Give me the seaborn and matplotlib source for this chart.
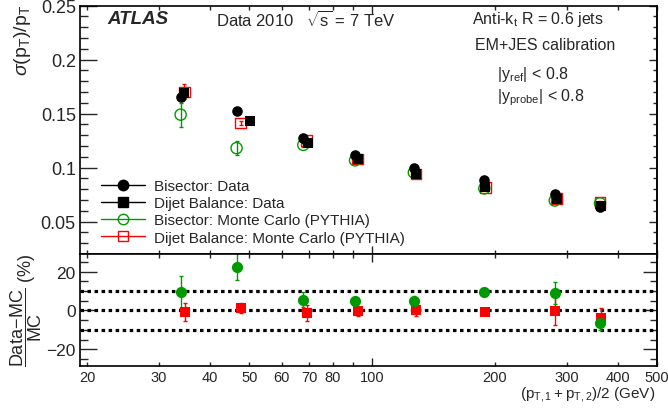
import numpy as np
import pandas as pd
import matplotlib
matplotlib.use("Agg")
import matplotlib.pyplot as plt
import seaborn as sns
from matplotlib.lines import Line2D
from matplotlib.ticker import FixedLocator, FixedFormatter, MultipleLocator

sns.set_theme(style="ticks")
plt.rcParams["font.family"] = ["Liberation Sans", "DejaVu Sans"]
plt.rcParams["mathtext.fontset"] = "custom"
plt.rcParams["mathtext.rm"] = "Liberation Sans"
plt.rcParams["mathtext.it"] = "Liberation Sans:italic"
plt.rcParams["mathtext.bf"] = "Liberation Sans:bold"

# resolution vs average pT
x_bis = [33.9, 46.5, 67.8, 90.8, 126.6, 188.5, 280.6, 362.4]
x_dij_data = [34.6, 50.2, 69.6, 92.1, 128.1, 189.6, 283.8, 364.8]
x_dij_mc = [34.6, 47.6, 69.1, 92.1, 128.1, 189.6, 283.8, 362.4]

bis_data = [0.165, 0.1526, 0.1275, 0.1116, 0.100, 0.0884, 0.0755, 0.0632]
dij_data = [0.169, 0.143, 0.123, 0.1076, 0.094, 0.0817, 0.071, 0.0645]
bis_mc = [0.149, 0.118, 0.121, 0.1067, 0.0954, 0.0807, 0.0695, 0.0669]
bis_mc_err = [0.011, 0.0065, 0.002, 0.0015, 0.0015, 0.0015, 0.0015, 0.0015]
dij_mc = [0.170, 0.1413, 0.125, 0.108, 0.094, 0.0817, 0.0712, 0.068]
dij_mc_err = [0.007, 0.002, 0.0015, 0.0015, 0.0015, 0.0015, 0.0015, 0.0015]

# (Data-MC)/MC in %
x_rat_bis = [33.9, 46.5, 67.8, 90.8, 126.6, 188.5, 280.6, 362.4]
x_rat_dij = [34.8, 47.6, 69.1, 92.1, 128.1, 189.6, 280.6, 364.8]
rat_bis = [9.5, 22.5, 5.6, 4.7, 4.7, 9.3, 9.0, -6.6]
rat_bis_err = [8.2, 7.0, 3.8, 2.2, 2.9, 1.0, 5.6, 3.5]
rat_dij = [-0.8, 1.2, -1.4, -0.5, 0.0, -0.9, -0.2, -3.7]
rat_dij_err = [4.8, 2.5, 4.0, 2.5, 3.0, 0.8, 7.3, 5.0]

green = "#009900"
red = "#ff0000"

fig = plt.figure(figsize=(6.68, 4.10), dpi=100)
ax = fig.add_axes([80 / 668, 1 - 255 / 410, 577 / 668, 248.5 / 410])
axr = fig.add_axes([80 / 668, 1 - 367 / 410, 577 / 668, 112 / 410])

up = pd.DataFrame({"x_bis": x_bis, "x_dd": x_dij_data, "x_dm": x_dij_mc,
                   "bis_data": bis_data, "dij_data": dij_data,
                   "bis_mc": bis_mc, "dij_mc": dij_mc})

ax.errorbar(x_bis, bis_mc, yerr=bis_mc_err, fmt="none", ecolor=green,
            elinewidth=1, capsize=1.5, zorder=2)
ax.errorbar(x_dij_mc, dij_mc, yerr=dij_mc_err, fmt="none", ecolor=red,
            elinewidth=1, capsize=1.5, zorder=2)
sns.scatterplot(data=up, x="x_dm", y="dij_mc", marker="s", s=60,
                facecolor="none", edgecolor=red, linewidth=1, ax=ax, zorder=3)
sns.scatterplot(data=up, x="x_bis", y="bis_mc", marker="o", s=65,
                facecolor="none", edgecolor=green, linewidth=1, ax=ax, zorder=3)
sns.scatterplot(data=up, x="x_dd", y="dij_data", marker="s", s=50,
                color="black", linewidth=0, ax=ax, zorder=4)
sns.scatterplot(data=up, x="x_bis", y="bis_data", marker="o", s=58,
                color="black", linewidth=0, ax=ax, zorder=4)

lo = pd.DataFrame({"x_bis": x_rat_bis, "x_dij": x_rat_dij,
                   "bis": rat_bis, "dij": rat_dij})
for yl in [-10, 0, 10]:
    axr.axhline(yl, color="black", lw=2.3, ls=(0, (1.1, 1.1)), zorder=1)
axr.errorbar(x_rat_dij, rat_dij, yerr=rat_dij_err, fmt="none", ecolor=red,
             elinewidth=1, capsize=1.5, zorder=2)
axr.errorbar(x_rat_bis, rat_bis, yerr=rat_bis_err, fmt="none", ecolor=green,
             elinewidth=1, capsize=1.5, zorder=2)
sns.scatterplot(data=lo, x="x_dij", y="dij", marker="s", s=60, color=red,
                linewidth=0, ax=axr, zorder=3)
sns.scatterplot(data=lo, x="x_bis", y="bis", marker="o", s=65, color=green,
                linewidth=0, ax=axr, zorder=3)

major_x = [100]
minor_x = [20, 30, 40, 50, 60, 70, 80, 90, 200, 300, 400, 500]
minor_lab = ["20", "30", "40", "50", "60", "70", "80", "", "200", "300", "400", "500"]
for a in (ax, axr):
    a.set_xscale("log")
    a.set_xlim(19.2, 500)
    a.xaxis.set_major_locator(FixedLocator(major_x))
    a.xaxis.set_minor_locator(FixedLocator(minor_x))
    a.set_xlabel("")
    a.set_ylabel("")
    for s in a.spines.values():
        s.set_linewidth(1.2)
        s.set_color("black")
    a.tick_params(axis="x", which="major", direction="in", length=6, width=1,
                  top=True, bottom=True)
    a.tick_params(axis="x", which="minor", direction="in", length=3, width=1,
                  top=True, bottom=True)
    a.tick_params(axis="y", which="major", direction="in", length=12.5, width=1,
                  left=True, right=False)
    a.tick_params(axis="y", which="minor", direction="in", length=6, width=1,
                  left=True, right=False)

ax.set_ylim(0.02, 0.25)
axr.set_ylim(-28.5, 29)

ax.tick_params(axis="x", which="both", labelbottom=False)
axr.xaxis.set_major_formatter(FixedFormatter(["100"]))
axr.xaxis.set_minor_formatter(FixedFormatter(minor_lab))
axr.tick_params(axis="x", which="both", labelsize=10.5, pad=3)

ax.yaxis.set_major_locator(FixedLocator([0.05, 0.1, 0.15, 0.2, 0.25]))
ax.yaxis.set_major_formatter(FixedFormatter(["0.05", "0.1", "0.15", "0.2", "0.25"]))
ax.yaxis.set_minor_locator(MultipleLocator(0.01))
ax.tick_params(axis="y", labelsize=13, pad=3)
axr.yaxis.set_major_locator(FixedLocator([-20, 0, 20]))
axr.yaxis.set_minor_locator(MultipleLocator(5))
axr.tick_params(axis="y", labelsize=12.5, pad=3)

# shorter ticks on the right side, ROOT style
for a, maj, mlen, mloc in ((ax, [0.05, 0.1, 0.15, 0.2, 0.25], 6, 0.01),
                           (axr, [-20, 0, 20], 10, 5)):
    sec = a.secondary_yaxis("right")
    sec.yaxis.set_major_locator(FixedLocator(maj))
    sec.yaxis.set_minor_locator(MultipleLocator(mloc))
    sec.tick_params(which="major", direction="in", length=mlen, width=1, labelright=False)
    sec.tick_params(which="minor", direction="in", length=mlen / 2, width=1)
    sec.spines["right"].set_linewidth(1.2)

fig.text(12 / 668, 1 - 5 / 410, r"$\sigma(\mathrm{p_T})/\mathrm{p_T}$", rotation=90,
         ha="left", va="top", fontsize=14)
fig.text(8 / 668, 1 - 310 / 410, r"$\dfrac{\mathrm{Data\!-\!MC}}{\mathrm{MC}}$ (%)",
         rotation=90, ha="left", va="center", fontsize=13)
fig.text(655 / 668, 1 - 395 / 410, r"$(\mathrm{p_{T,1}}+\mathrm{p_{T,2}})/2$ (GeV)",
         ha="right", va="center", fontsize=11)

ax.text(0.048, 0.946, "ATLAS", transform=ax.transAxes, fontsize=13.5,
        fontweight="bold", fontstyle="italic", va="center")
ax.text(0.236, 0.946, r"Data 2010   $\sqrt{\mathrm{s}}$ = 7 TeV", transform=ax.transAxes,
        fontsize=12, va="center")
ax.text(0.68, 0.946, r"Anti-k$_\mathrm{t}$ R = 0.6 jets", transform=ax.transAxes,
        fontsize=11.5, va="center")
ax.text(0.685, 0.845, "EM+JES calibration", transform=ax.transAxes,
        fontsize=11.5, va="center")
ax.text(0.722, 0.725, r"|y$_\mathrm{ref}$| < 0.8", transform=ax.transAxes,
        fontsize=11.5, va="center")
ax.text(0.722, 0.632, r"|y$_\mathrm{probe}$| < 0.8", transform=ax.transAxes,
        fontsize=11.5, va="center")

handles = [
    Line2D([0], [0], color="black", lw=1, marker="o", markersize=7.5,
           markerfacecolor="black", markeredgecolor="black"),
    Line2D([0], [0], color="black", lw=1, marker="s", markersize=7,
           markerfacecolor="black", markeredgecolor="black"),
    Line2D([0], [0], color=green, lw=1, marker="o", markersize=7.5,
           markerfacecolor="none", markeredgecolor=green),
    Line2D([0], [0], color=red, lw=1, marker="s", markersize=7.5,
           markerfacecolor="none", markeredgecolor=red),
]
labels = ["Bisector: Data", "Dijet Balance: Data",
          "Bisector: Monte Carlo (PYTHIA)", "Dijet Balance: Monte Carlo (PYTHIA)"]
ax.legend(handles, labels, loc="upper left", bbox_to_anchor=(0.025, 0.325),
          frameon=False, fontsize=11, handlelength=2.9, handletextpad=0.6,
          labelspacing=0.2, borderaxespad=0)

fig.savefig("out.png", dpi=100)
